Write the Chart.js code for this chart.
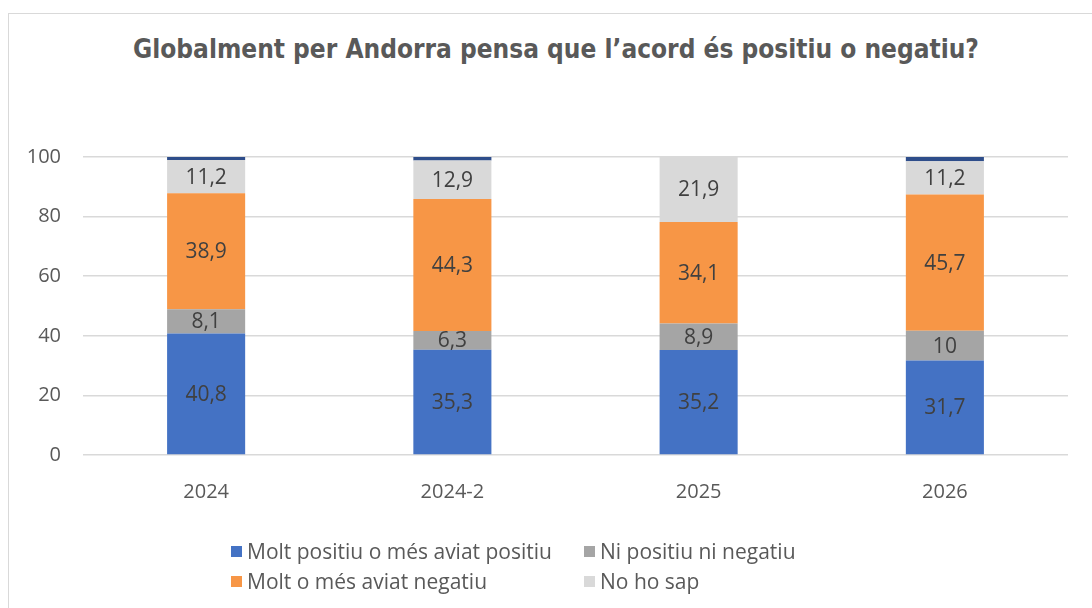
<!DOCTYPE html>
<html>
<head>
<meta charset="utf-8">
<script src="https://cdn.jsdelivr.net/npm/chart.js@4/dist/chart.umd.min.js"></script>
<style>
  html, body { margin: 0; padding: 0; background: #fff; }
  #wrap { position: relative; width: 1092px; height: 608px; overflow: hidden; }
  #frame { position: absolute; left: 8px; top: 13px; right: -2px; bottom: -2px;
           border-left: 1px solid #d9d9d9; border-top: 1px solid #d9d9d9; }
  #title { position: absolute; left: 0; width: 1112px; top: 31px; text-align: center;
           font-family: "Liberation Sans Narrow", "DejaVu Sans Condensed", "Liberation Sans", sans-serif;
           font-weight: bold; font-size: 26px; color: #595959; line-height: 36px; white-space: nowrap; }
  canvas { position: absolute; left: 0; top: 0; }
  .lg { position: absolute; display: flex; align-items: center; font-family: "Open Sans", sans-serif;
        font-size: 21px; color: #595959; white-space: nowrap; line-height: 24px; }
  .lg span.sw { display: inline-block; width: 11px; height: 11px; margin-right: 5px; }
</style>
</head>
<body>
<div id="wrap">
  <div id="frame"></div>
  <div id="title">Globalment per Andorra pensa que l’acord és positiu o negatiu?</div>
  <canvas id="c" width="1092" height="608"></canvas>
</div>
<script>
const categories = ["2024", "2024-2", "2025", "2026"];
const seriesNames = ["Molt positiu o més aviat positiu", "Ni positiu ni negatiu", "Molt o més aviat negatiu", "No ho sap", "No contesta"];
const positiu = [40.8, 35.3, 35.2, 31.7];
const niPositiuNiNegatiu = [8.1, 6.3, 8.9, 10];
const negatiu = [38.9, 44.3, 34.1, 45.7];
const noHoSap = [11.2, 12.9, 21.9, 11.2];
const noContesta = [1.0, 1.2, 0, 1.4];
const yTicks = [0, 20, 40, 60, 80, 100];

const colors = ["#4472C4", "#A5A5A5", "#F79646", "#D9D9D9", "#2E4D8A"];
const seriesValues = [positiu, niPositiuNiNegatiu, negatiu, noHoSap, noContesta];
const inLegend = [true, true, true, true, false];
const showLabels = [true, true, true, true, false];

const fmt = v => String(v).replace('.', ',');

const labelPlugin = {
  id: 'barLabels',
  afterDatasetsDraw(chart) {
    const ctx = chart.ctx;
    ctx.save();
    ctx.font = '21px "Open Sans", sans-serif';
    ctx.fillStyle = '#404040';
    ctx.textAlign = 'center';
    ctx.textBaseline = 'middle';
    chart.data.datasets.forEach((ds, i) => {
      if (!showLabels[i]) return;
      const meta = chart.getDatasetMeta(i);
      meta.data.forEach((bar, j) => {
        const v = ds.data[j];
        if (!v) return;
        const p = bar.getProps(['x', 'y', 'base'], true);
        ctx.fillText(fmt(v), p.x, (p.y + p.base) / 2 + 1);
      });
    });
    ctx.restore();
  }
};

const chart = new Chart(document.getElementById('c'), {
  type: 'bar',
  data: {
    labels: categories,
    datasets: seriesValues.map((vals, i) => ({
      label: seriesNames[i],
      data: vals,
      backgroundColor: colors[i],
      borderWidth: 0,
      categoryPercentage: 1,
      barPercentage: 0.317
    }))
  },
  options: {
    responsive: false,
    animation: false,
    layout: { padding: { left: 0, right: 24, top: 157, bottom: 93 } },
    plugins: { legend: { display: false }, title: { display: false }, tooltip: { enabled: false } },
    scales: {
      x: {
        stacked: true,
        grid: { display: false },
        border: { display: false },
        ticks: { color: '#595959', font: { family: '"Open Sans", sans-serif', size: 20 }, padding: 17 },
        afterFit(scale) { scale.height = 60; }
      },
      y: {
        stacked: true,
        min: 0, max: 100,
        afterBuildTicks(scale) { scale.ticks = yTicks.map(v => ({ value: v })); },
        grid: { color: '#D9D9D9', lineWidth: 1.5, drawTicks: false },
        border: { display: false },
        ticks: { color: '#595959', font: { family: '"Open Sans", sans-serif', size: 20 }, padding: 22 },
        afterFit(scale) { scale.width = 83; }
      }
    }
  },
  plugins: [labelPlugin]
});

// HTML legend (2 x 2 grid)
const legendPos = [[231, 551], [584, 551], [231, 581], [584, 581]];
const wrap = document.getElementById('wrap');
let k = 0;
chart.data.datasets.forEach((ds, i) => {
  if (!inLegend[i]) return;
  const [lx, ly] = legendPos[k++];
  const d = document.createElement('div');
  d.className = 'lg';
  d.style.left = lx + 'px';
  d.style.top = (ly - 12) + 'px';
  const sw = document.createElement('span');
  sw.className = 'sw';
  sw.style.background = ds.backgroundColor;
  d.appendChild(sw);
  d.appendChild(document.createTextNode(ds.label));
  wrap.appendChild(d);
});
</script>
</body>
</html>
